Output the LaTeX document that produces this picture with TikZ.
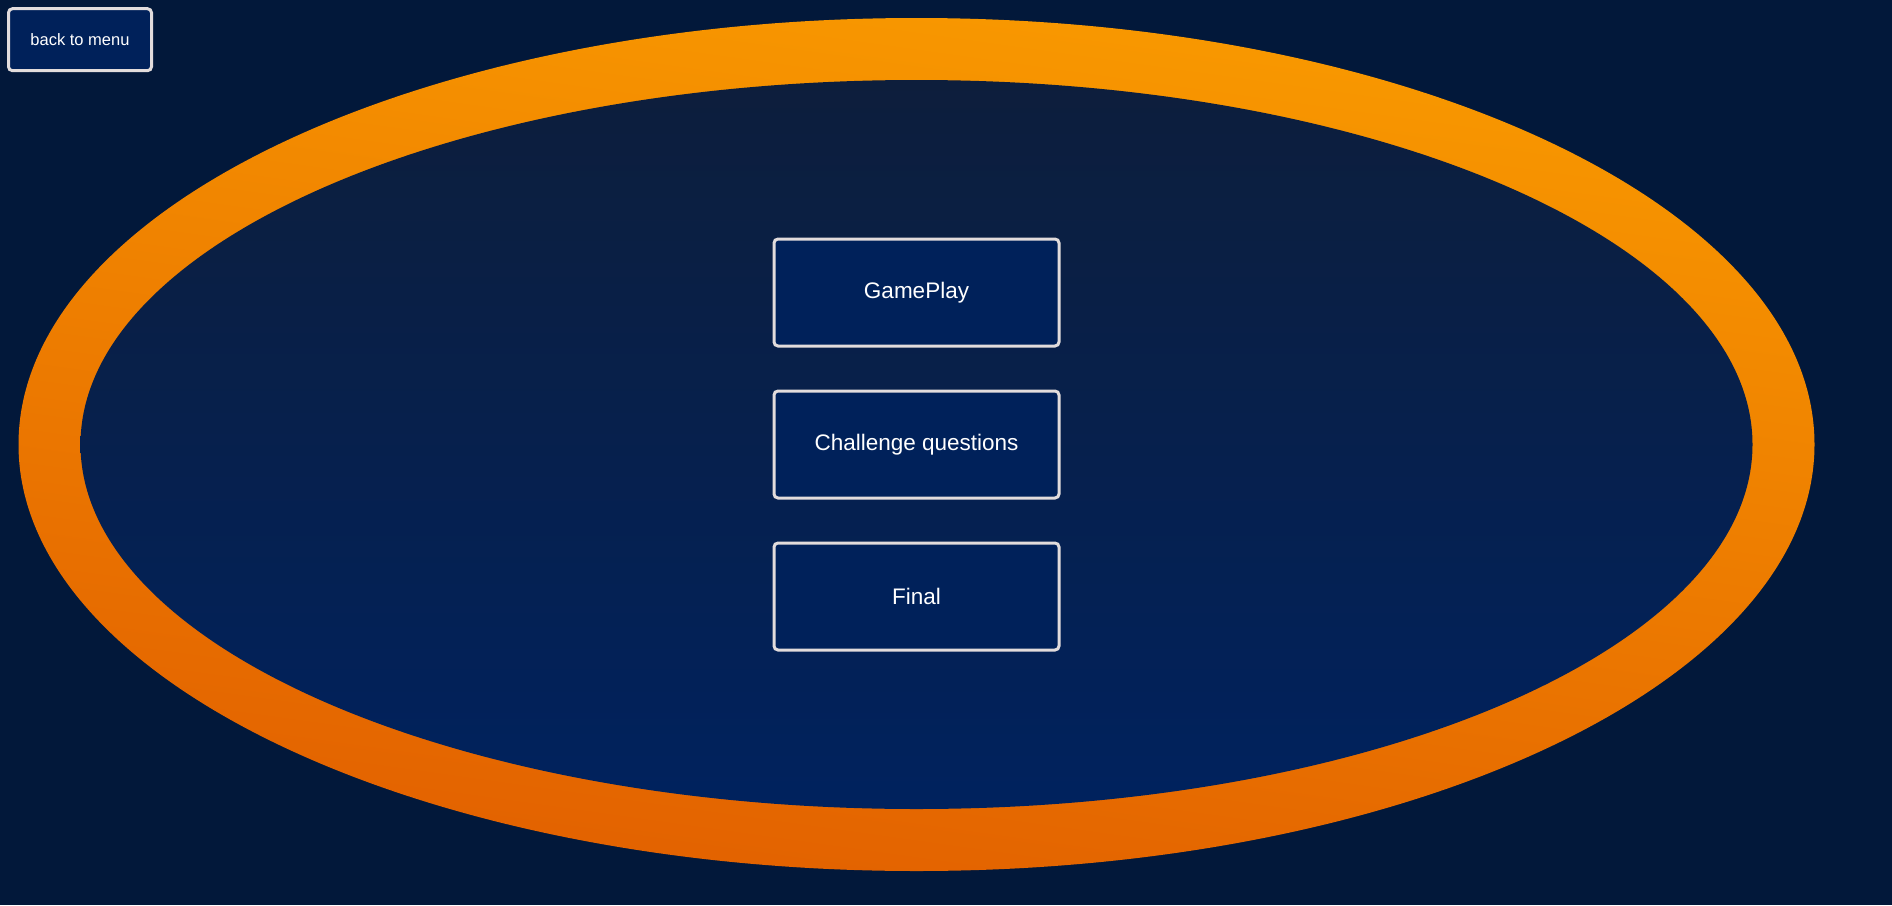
\documentclass[tikz,border=0pt]{standalone}
\usepackage{fontspec}
\setmainfont{Liberation Sans}
\usetikzlibrary{positioning}
\definecolor{fondo}{HTML}{02183A}
\definecolor{azulboton}{HTML}{00215A}
\definecolor{bordeboton}{HTML}{E2DCDC}
\definecolor{naranjaclaro}{HTML}{F99A00}
\definecolor{naranjamedio}{HTML}{F48F00}
\definecolor{naranjaoscuro}{HTML}{E26000}
\definecolor{azularriba}{HTML}{0D1E3C}
\definecolor{azulabajo}{HTML}{00225E}
\tikzset{
    boton/.style={rectangle, rounded corners=4pt, draw=bordeboton, line width=3pt,
        fill=azulboton, text=white, minimum width=285pt, minimum height=107pt,
        font=\fontsize{22.5}{27}\selectfont},
    botonmenu/.style={boton, minimum width=143pt, minimum height=62pt,
        font=\fontsize{16.5}{20}\selectfont}}

\begin{document}
\begin{tikzpicture}[x=1pt, y=-1pt, node distance=42pt]
    \fill[fondo] (0,0) rectangle (1892,905);
    \useasboundingbox (0,0) rectangle (1892,905);
    % anillo
    \shade[top color=naranjaclaro, middle color=naranjamedio,
        bottom color=naranjaoscuro, shading angle=-8]
        (916.5,444.5) ellipse [x radius=898pt, y radius=426.5pt];
    \shade[top color=azularriba, bottom color=azulabajo]
        (916.5,444.5) ellipse [x radius=836pt, y radius=364.5pt];

    \node (menu) [botonmenu] at (80,39.7) {back to menu};
    \node (reto) [boton] at (916.5,444.5) {Challenge questions};
    \node (juego) [boton, above=of reto] {GamePlay};
    \node (final) [boton, below=of reto] {Final};
\end{tikzpicture}
\end{document}
